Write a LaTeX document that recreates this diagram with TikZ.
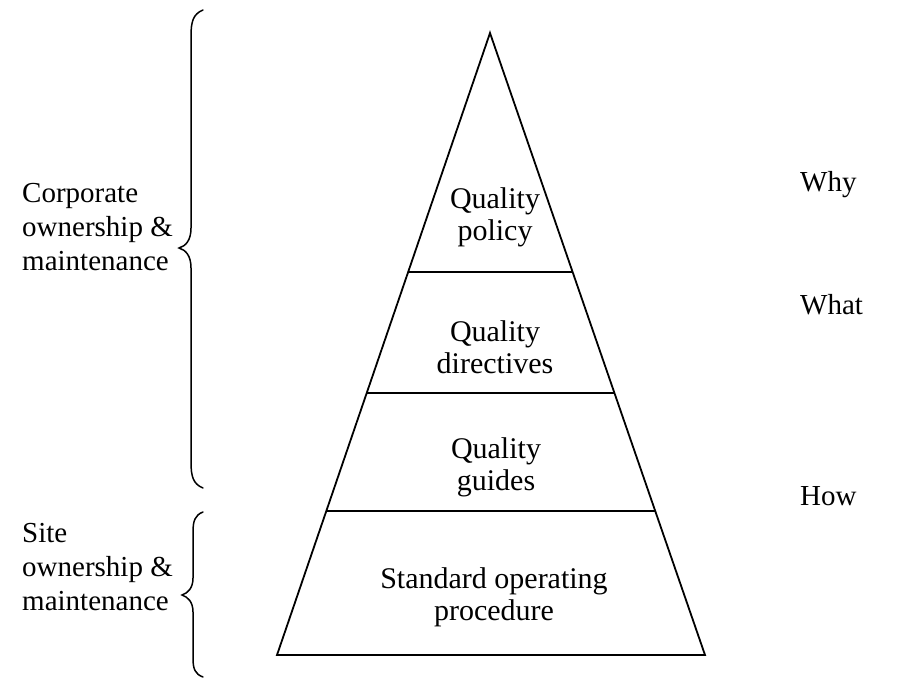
\documentclass[tikz,border=0pt]{standalone}
\usepackage{fontspec}
\setmainfont{Liberation Serif}
\usetikzlibrary{calc}
\tikzset{
  edge/.style={line width=1.8pt, line join=miter},
  lbl/.style={font=\fontsize{30}{32}\selectfont, align=center, inner sep=0pt},
  rlbl/.style={font=\fontsize{29}{32}\selectfont, inner sep=0pt, anchor=west},
  side/.style={font=\fontsize{29}{34}\selectfont, align=left, inner sep=0pt, anchor=west},
  brace/.style={line width=1.5pt, line cap=round}
}
\begin{document}
\begin{tikzpicture}[x=1pt,y=-1pt]
\useasboundingbox (0,0) rectangle (907,678);
% pyramid
\coordinate (apex) at (490,33);
\coordinate (bl) at (277,655);
\coordinate (br) at (705,655);
\draw[edge] (apex) -- (bl) -- (br) -- cycle;
\coordinate (l1) at ($(apex)!0.3842!(bl)$);
\coordinate (r1) at ($(apex)!0.3842!(br)$);
\coordinate (l2) at ($(apex)!0.5788!(bl)$);
\coordinate (r2) at ($(apex)!0.5788!(br)$);
\coordinate (l3) at ($(apex)!0.7685!(bl)$);
\coordinate (r3) at ($(apex)!0.7685!(br)$);
\draw[edge] (l1) -- (r1);
\draw[edge] (l2) -- (r2);
\draw[edge] (l3) -- (r3);
% level labels
\node[lbl] (policy) at (495,217) {Quality\\policy};
\node[lbl] (directives) at (495,347) {Quality\\directives};
\node[lbl] (guides) at (496,467) {Quality\\guides};
\node[lbl] (sop) at (494,597) {Standard operating\\procedure};
% right labels
\node[rlbl] (why) at (800,185) {Why};
\node[rlbl] (what) at (800,305) {What};
\node[rlbl] (how) at (800,496) {How};
% left labels
\node[side] (corp) at (22,227) {Corporate\\ownership \&\\maintenance};
\node[side] (site) at (22,567) {Site\\ownership \&\\maintenance};
% braces
\coordinate (b1t) at (203,10);
\coordinate (b1m) at (179,248);
\coordinate (b1b) at (203,488);
\draw[brace] (b1t) .. controls (193,14) and (191,22) .. (191,36)
  -- (191,228) .. controls (191,240) and (186,246) .. (b1m)
  .. controls (186,250) and (191,256) .. (191,268)
  -- (191,462) .. controls (191,476) and (193,484) .. (b1b);
\coordinate (b2t) at (203,512);
\coordinate (b2m) at (182,595);
\coordinate (b2b) at (203,677);
\draw[brace] (b2t) .. controls (195,515) and (193,521) .. (193,532)
  -- (193,578) .. controls (193,588) and (188,593) .. (b2m)
  .. controls (188,597) and (193,602) .. (193,612)
  -- (193,658) .. controls (193,669) and (195,674) .. (b2b);
\end{tikzpicture}
\end{document}
